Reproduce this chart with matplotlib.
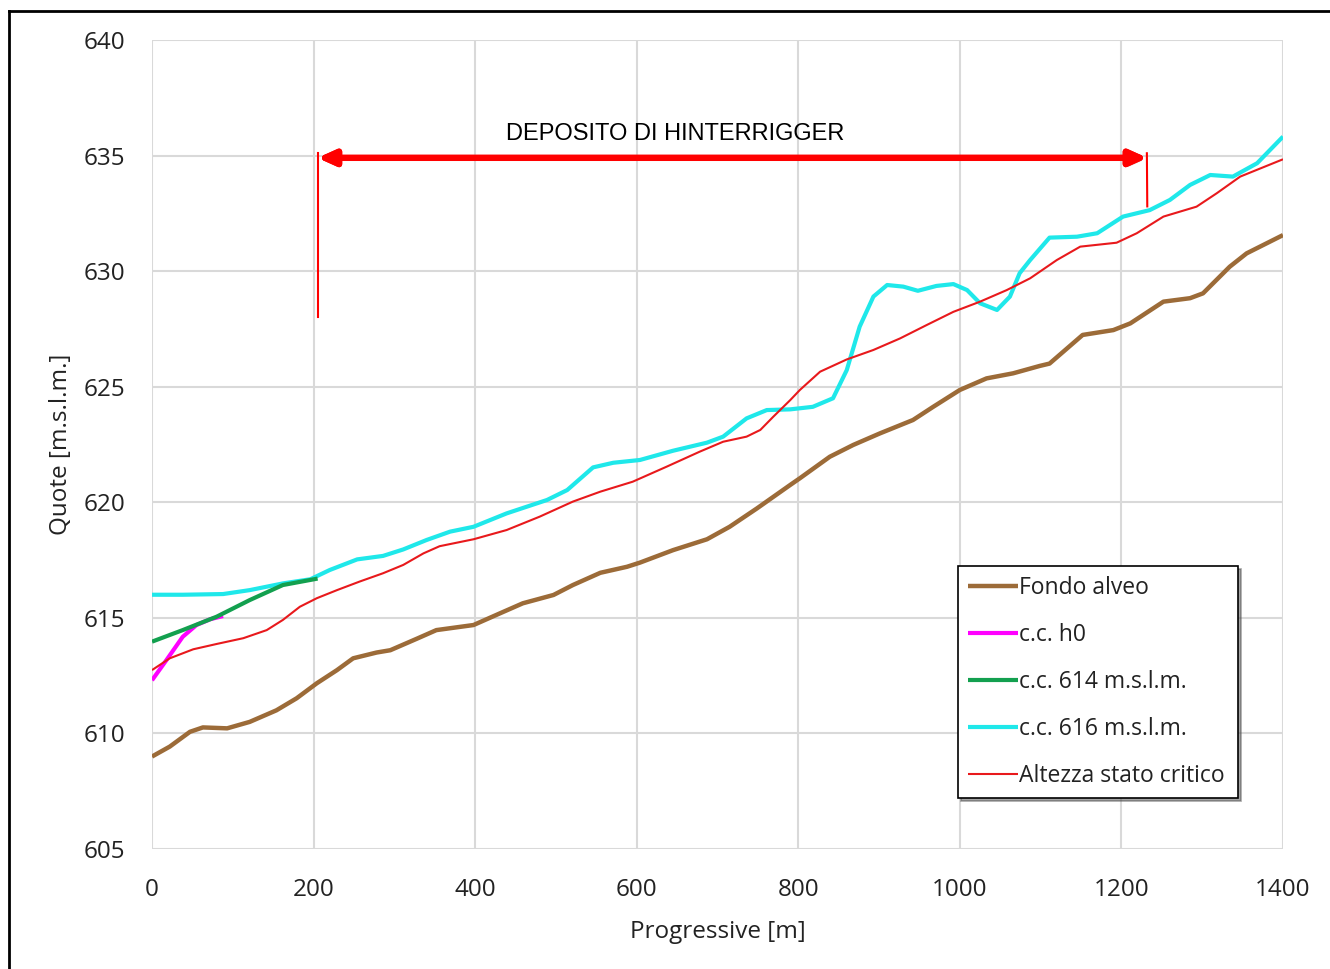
import matplotlib
matplotlib.use("Agg")
import matplotlib.pyplot as plt
from matplotlib.lines import Line2D
import matplotlib.patheffects as pe

# ---------------- data ----------------
x_fondo = [0, 22, 47, 63, 93, 121, 154, 179, 204, 229, 249, 278, 295, 328, 352, 398, 431, 459,
           497, 521, 555, 588, 604, 645, 687, 715, 749, 790, 802, 839, 868, 901, 942, 967, 1000,
           1033, 1066, 1099, 1111, 1152, 1190, 1211, 1252, 1285, 1301, 1334, 1355, 1400]
y_fondo = [609.0, 609.43, 610.07, 610.26, 610.22, 610.5, 611.0, 611.52, 612.17, 612.74, 613.25,
           613.5, 613.6, 614.1, 614.47, 614.69, 615.2, 615.63, 615.99, 616.42, 616.95, 617.21,
           617.39, 617.93, 618.4, 618.94, 619.74, 620.75, 621.04, 621.97, 622.48, 622.98,
           623.56, 624.13, 624.86, 625.36, 625.58, 625.9, 626.0, 627.24, 627.45, 627.74,
           628.68, 628.83, 629.04, 630.19, 630.77, 631.56]

x_h0 = [0, 18, 38, 55, 72, 88]
y_h0 = [612.3, 613.18, 614.18, 614.69, 614.94, 615.08]

x_614 = [0, 38, 80, 121, 162, 196, 205]
y_614 = [613.97, 614.47, 615.05, 615.77, 616.42, 616.64, 616.7]

x_616 = [0, 38, 88, 121, 162, 196, 220, 254, 286, 311, 340, 369, 398, 439, 489, 514, 546, 571,
         604, 645, 687, 707, 736, 761, 790, 818, 843, 860, 876, 893, 910, 930, 948, 971, 992,
         1009, 1025, 1046, 1062, 1074, 1087, 1111, 1145, 1170, 1202, 1235, 1260, 1285, 1310,
         1338, 1368, 1400]
y_616 = [616.0, 616.0, 616.03, 616.2, 616.49, 616.67, 617.07, 617.53, 617.68, 617.96, 618.37,
         618.73, 618.94, 619.52, 620.1, 620.53, 621.51, 621.71, 621.83, 622.23, 622.58, 622.84,
         623.63, 623.99, 624.02, 624.13, 624.5, 625.72, 627.6, 628.9, 629.4, 629.33, 629.15,
         629.36, 629.44, 629.18, 628.61, 628.32, 628.9, 629.91, 630.48, 631.45, 631.49, 631.64,
         632.36, 632.64, 633.08, 633.73, 634.16, 634.09, 634.67, 635.82]

x_crit = [0, 22, 51, 80, 113, 142, 162, 183, 204, 229, 257, 286, 311, 336, 356, 398, 439, 480,
          521, 555, 595, 637, 678, 707, 736, 753, 769, 790, 802, 827, 860, 893, 926, 959, 992,
          1025, 1058, 1087, 1120, 1149, 1194, 1219, 1252, 1293, 1318, 1347, 1400]
y_crit = [612.74, 613.25, 613.64, 613.87, 614.12, 614.47, 614.91, 615.48, 615.85, 616.2,
          616.57, 616.93, 617.29, 617.79, 618.1, 618.4, 618.8, 619.38, 620.03, 620.46, 620.89,
          621.54, 622.19, 622.62, 622.84, 623.13, 623.7, 624.42, 624.86, 625.65, 626.18, 626.59,
          627.09, 627.67, 628.24, 628.68, 629.18, 629.69, 630.48, 631.06, 631.23, 631.64,
          632.36, 632.79, 633.37, 634.09, 634.84]

series_labels = ["Fondo alveo", "c.c. h0", "c.c. 614 m.s.l.m.", "c.c. 616 m.s.l.m.",
                 "Altezza stato critico"]
x_ticks = [0, 200, 400, 600, 800, 1000, 1200, 1400]
y_ticks = [605, 610, 615, 620, 625, 630, 635, 640]

deposit_label = "DEPOSITO DI HINTERRIGGER"
deposit_start, deposit_end = 205, 1232
deposit_arrow_y = 634.9

# ---------------- figure ----------------
plt.rcParams['font.family'] = ['Open Sans', 'DejaVu Sans']
fig = plt.figure(figsize=(13.3, 9.69), dpi=100)
ax = fig.add_axes([152/1330, 1-849/969, (1283-152)/1330, (849-40)/969])

c_fondo = '#9c6b38'
c_h0 = '#ff00ff'
c_614 = '#13a04f'
c_616 = '#1fe8ea'
c_crit = '#e8191c'

kw = dict(solid_joinstyle='round', solid_capstyle='butt')
ax.plot(x_fondo, y_fondo, color=c_fondo, lw=3.2, label=series_labels[0], zorder=3, **kw)
ax.plot(x_h0, y_h0, color=c_h0, lw=3.0, label=series_labels[1], zorder=3, **kw)
ax.plot(x_614, y_614, color=c_614, lw=3.0, label=series_labels[2], zorder=4, **kw)
ax.plot(x_616, y_616, color=c_616, lw=3.0, label=series_labels[3], zorder=3, **kw)
ax.plot(x_crit, y_crit, color=c_crit, lw=1.5, label=series_labels[4], zorder=5, **kw)

ax.set_xlim(0, 1400)
ax.set_ylim(605, 640)
ax.set_xticks(x_ticks)
ax.set_yticks(y_ticks)
ax.tick_params(length=0, labelsize=17.5, colors='#222222')
ax.tick_params(axis='x', pad=21)
ax.tick_params(axis='y', pad=19)
ax.grid(True, color='#d9d9d9', lw=1.5)
for s in ax.spines.values():
    s.set_visible(False)
ax.set_axisbelow(True)

ax.set_xlabel("Progressive [m]", fontsize=17.5, color='#222222', labelpad=13)
ax.set_ylabel("Quote [m.s.l.m.]", fontsize=17.5, color='#222222', labelpad=8)

# annotation
ax.plot([deposit_start, deposit_start], [628.0, 635.1], color='#ff0000', lw=1.5, zorder=6)
ax.plot([1231.5, 1232], [635.1, 632.8], color='#ff0000', lw=1.5, zorder=6)
ax.annotate('', xy=(deposit_start, deposit_arrow_y), xytext=(deposit_end, deposit_arrow_y),
            arrowprops=dict(arrowstyle='<|-|>,head_length=1.0,head_width=0.45',
                            color='#ff0000', lw=4.5, shrinkA=0, shrinkB=0,
                            path_effects=[pe.withSimplePatchShadow(offset=(2, -2),
                                                                   shadow_rgbFace='#bbbbbb',
                                                                   alpha=0.5), pe.Normal()]),
            zorder=7)
ax.text(648, 635.95, deposit_label, ha='center', va='center', fontsize=17,
        family='Liberation Sans', color='black')

leg = ax.legend(loc='upper left', bbox_to_anchor=((958-152)/1131, (849-566)/809,
                                                   (1238-958)/1131, 0),
                mode='expand', fontsize=16.5, frameon=True, fancybox=False, shadow=True,
                handlelength=2.15, handletextpad=0.05, labelspacing=1.0, borderpad=0.45,
                borderaxespad=0)
leg.get_frame().set_edgecolor('black')
leg.get_frame().set_linewidth(1.2)
for t in leg.get_texts():
    t.set_color('#222222')

# outer border (left and top only visible)
fig.add_artist(Line2D([9/1330, 9/1330], [0, 1-11/969], transform=fig.transFigure,
                      color='black', lw=2))
fig.add_artist(Line2D([9/1330, 1], [1-11/969, 1-11/969], transform=fig.transFigure,
                      color='black', lw=2))

fig.savefig('out.png', dpi=100)
